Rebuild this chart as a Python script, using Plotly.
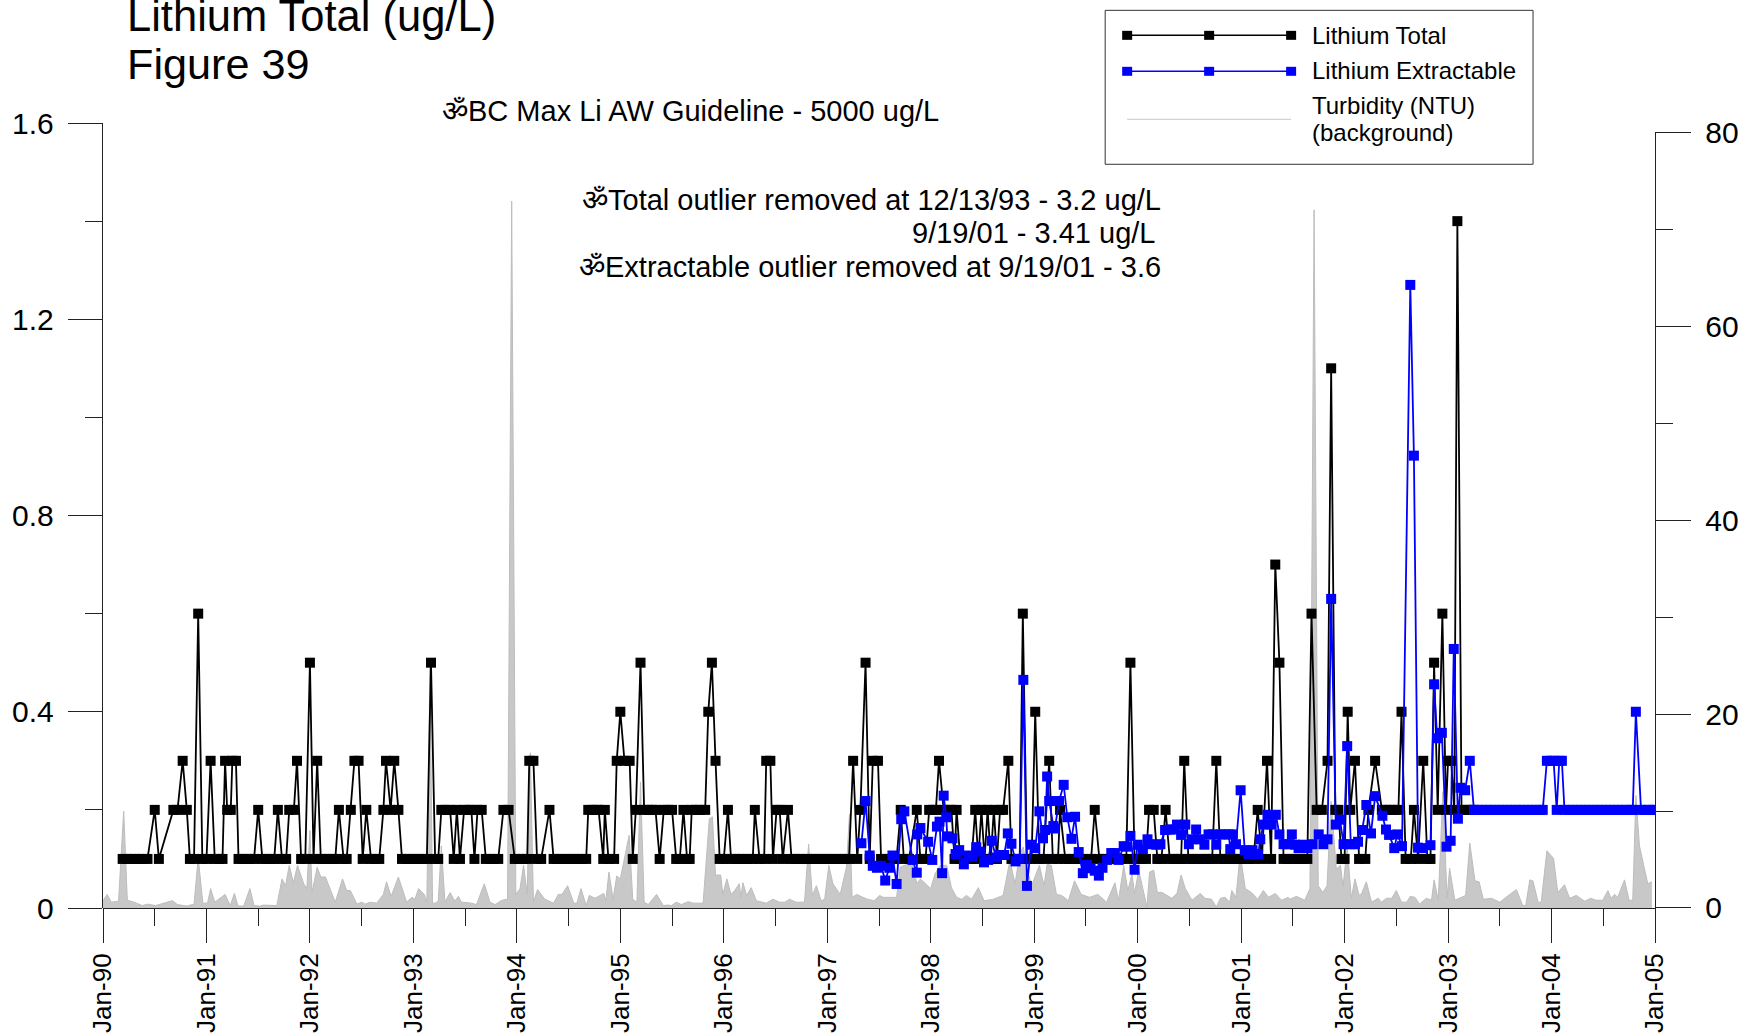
import plotly.graph_objects as go

year_labels = ["Jan-90","Jan-91","Jan-92","Jan-93","Jan-94","Jan-95","Jan-96","Jan-97","Jan-98","Jan-99","Jan-00","Jan-01","Jan-02","Jan-03","Jan-04","Jan-05"]
year_ticks = [1990,1991,1992,1993,1994,1995,1996,1997,1998,1999,2000,2001,2002,2003,2004,2005]

# (decimal year, ug/L)
lithium_total = [
(1990.19,.1),(1990.23,.1),(1990.27,.1),(1990.31,.1),(1990.35,.1),(1990.39,.1),(1990.43,.1),(1990.50,.2),(1990.54,.1),(1990.68,.2),(1990.72,.2),(1990.77,.3),(1990.81,.2),(1990.84,.1),(1990.88,.1),(1990.92,.6),(1990.96,.1),
(1991.00,.1),(1991.04,.3),(1991.08,.1),(1991.12,.1),(1991.155,.1),(1991.18,.3),(1991.20,.2),(1991.235,.2),(1991.25,.3),(1991.285,.3),(1991.31,.1),(1991.35,.1),(1991.385,.1),(1991.42,.1),(1991.46,.1),(1991.50,.2),(1991.54,.1),(1991.58,.1),(1991.62,.1),(1991.655,.1),(1991.69,.2),(1991.73,.1),(1991.77,.1),(1991.80,.2),(1991.845,.2),(1991.875,.3),(1991.915,.1),(1991.955,.1),
(1992.00,.5),(1992.035,.1),(1992.07,.3),(1992.105,.1),(1992.14,.1),(1992.18,.1),(1992.22,.1),(1992.245,.1),(1992.28,.2),(1992.325,.1),(1992.355,.1),(1992.395,.2),(1992.43,.3),(1992.47,.3),(1992.51,.1),(1992.545,.2),(1992.59,.1),(1992.63,.1),(1992.67,.1),(1992.71,.2),(1992.735,.3),(1992.78,.2),(1992.815,.3),(1992.855,.2),(1992.89,.1),(1992.93,.1),(1992.97,.1),
(1993.01,.1),(1993.05,.1),(1993.09,.1),(1993.13,.1),(1993.17,.5),(1993.21,.1),(1993.24,.1),(1993.27,.2),(1993.31,.2),(1993.355,.2),(1993.39,.1),(1993.42,.2),(1993.45,.1),(1993.49,.2),(1993.53,.2),(1993.56,.2),(1993.59,.1),(1993.62,.2),(1993.66,.2),(1993.70,.1),(1993.74,.1),(1993.78,.1),(1993.82,.1),(1993.87,.2),(1993.92,.2),(1993.98,.1),
(1994.02,.1),(1994.06,.1),(1994.10,.1),(1994.12,.3),(1994.16,.3),(1994.195,.1),(1994.235,.1),(1994.315,.2),(1994.355,.1),(1994.39,.1),(1994.43,.1),(1994.47,.1),(1994.51,.1),(1994.55,.1),(1994.59,.1),(1994.63,.1),(1994.67,.1),(1994.69,.2),(1994.73,.2),(1994.77,.2),(1994.79,.2),(1994.835,.1),(1994.85,.2),(1994.885,.1),(1994.94,.1),(1994.965,.3),
(1995.00,.4),(1995.04,.3),(1995.09,.3),(1995.12,.1),(1995.15,.2),(1995.195,.5),(1995.23,.2),(1995.27,.2),(1995.31,.2),(1995.34,.2),(1995.38,.1),(1995.42,.2),(1995.46,.2),(1995.50,.2),(1995.54,.1),(1995.575,.1),(1995.61,.2),(1995.645,.1),(1995.67,.1),(1995.69,.2),(1995.73,.2),(1995.77,.2),(1995.82,.2),(1995.85,.4),(1995.885,.5),(1995.92,.3),(1995.96,.1),
(1996.00,.1),(1996.04,.2),(1996.07,.1),(1996.11,.1),(1996.15,.1),(1996.19,.1),(1996.23,.1),(1996.28,.1),(1996.30,.2),(1996.345,.1),(1996.39,.1),(1996.41,.3),(1996.45,.3),(1996.475,.1),(1996.51,.2),(1996.54,.2),(1996.57,.1),(1996.62,.2),(1996.655,.1),(1996.69,.1),(1996.73,.1),(1996.77,.1),(1996.81,.1),(1996.85,.1),(1996.89,.1),(1996.93,.1),(1996.97,.1),
(1997.01,.1),(1997.05,.1),(1997.09,.1),(1997.13,.1),(1997.17,.1),(1997.21,.1),(1997.25,.3),(1997.29,.1),(1997.32,.2),(1997.37,.5),(1997.41,.1),(1997.44,.3),(1997.49,.3),(1997.52,.1),(1997.56,.1),(1997.60,.1),(1997.64,.1),(1997.67,.1),(1997.71,.2),(1997.74,.1),(1997.79,.1),(1997.865,.2),(1997.90,.1),(1997.95,.1),(1997.985,.2),
(1998.02,.2),(1998.05,.2),(1998.08,.3),(1998.125,.2),(1998.165,.2),(1998.20,.2),(1998.23,.1),(1998.25,.2),(1998.285,.1),(1998.32,.1),(1998.36,.1),(1998.395,.1),(1998.43,.2),(1998.46,.1),(1998.49,.2),(1998.52,.1),(1998.55,.2),(1998.58,.1),(1998.61,.2),(1998.64,.1),(1998.67,.2),(1998.70,.2),(1998.75,.3),(1998.78,.1),(1998.82,.1),(1998.86,.1),(1998.89,.6),(1998.93,.1),(1998.975,.1),
(1999.01,.4),(1999.05,.1),(1999.09,.1),(1999.145,.3),(1999.18,.1),(1999.23,.1),(1999.25,.2),(1999.30,.1),(1999.34,.1),(1999.38,.1),(1999.42,.1),(1999.46,.1),(1999.50,.1),(1999.55,.1),(1999.585,.2),(1999.63,.1),(1999.67,.1),(1999.71,.1),(1999.75,.1),(1999.79,.1),(1999.83,.1),(1999.89,.1),(1999.93,.5),(1999.97,.1),
(2000.00,.1),(2000.04,.1),(2000.08,.1),(2000.11,.2),(2000.155,.2),(2000.19,.1),(2000.23,.1),(2000.27,.2),(2000.31,.1),(2000.35,.1),(2000.39,.1),(2000.42,.1),(2000.45,.3),(2000.49,.1),(2000.53,.1),(2000.57,.1),(2000.61,.1),(2000.65,.1),(2000.69,.1),(2000.72,.1),(2000.76,.3),(2000.80,.1),(2000.84,.1),(2000.88,.1),(2000.92,.1),(2000.96,.1),
(2001.00,.1),(2001.04,.1),(2001.08,.1),(2001.12,.1),(2001.16,.2),(2001.20,.1),(2001.25,.3),(2001.29,.1),(2001.33,.7),(2001.37,.5),(2001.41,.1),(2001.45,.1),(2001.49,.1),(2001.53,.1),(2001.57,.1),(2001.60,.1),(2001.64,.1),(2001.68,.6),(2001.73,.2),(2001.78,.2),(2001.835,.3),(2001.87,1.1),(2001.91,.2),(2001.94,.2),(2001.97,.1),
(2002.00,.1),(2002.03,.4),(2002.055,.2),(2002.10,.3),(2002.14,.1),(2002.20,.1),(2002.23,.2),(2002.295,.3),(2002.36,.2),(2002.40,.2),(2002.44,.2),(2002.48,.2),(2002.52,.2),(2002.55,.4),(2002.59,.1),(2002.64,.1),(2002.67,.2),(2002.71,.1),(2002.76,.3),(2002.80,.1),(2002.83,.1),(2002.865,.5),(2002.90,.2),(2002.945,.6),(2002.98,.2),
(2003.00,.3),(2003.03,.3),(2003.06,.2),(2003.09,1.4),(2003.13,.2),(2003.17,.2),(2003.21,.2),(2003.24,.2),
]

lithium_extractable = [
(1997.33,.132),(1997.37,.218),(1997.41,.107),(1997.44,.086),(1997.48,.082),(1997.52,.086),(1997.56,.056),(1997.60,.082),(1997.63,.107),(1997.67,.049),(1997.715,.181),(1997.745,.197),(1997.825,.098),(1997.865,.072),(1997.87,.15),(1997.90,.163),(1997.975,.135),
(1998.015,.098),(1998.06,.166),(1998.085,.176),(1998.11,.071),(1998.125,.229),(1998.15,.185),(1998.16,.146),(1998.21,.142),(1998.24,.11),(1998.275,.118),(1998.32,.089),(1998.365,.107),(1998.40,.105),(1998.44,.124),(1998.475,.115),(1998.515,.093),(1998.555,.098),(1998.59,.137),(1998.63,.103),(1998.67,.108),(1998.71,.108),(1998.745,.152),(1998.78,.131),(1998.82,.095),(1998.86,.1),(1998.895,.465),(1998.93,.045),(1998.97,.129),
(1999.01,.122),(1999.05,.197),(1999.085,.142),(1999.105,.159),(1999.125,.268),(1999.145,.218),(1999.185,.167),(1999.20,.162),(1999.24,.218),(1999.285,.251),(1999.32,.185),(1999.36,.141),(1999.395,.186),(1999.43,.114),(1999.47,.071),(1999.51,.088),(1999.545,.081),(1999.585,.076),(1999.625,.066),(1999.66,.082),(1999.705,.098),(1999.745,.112),(1999.78,.112),(1999.815,.098),(1999.865,.126),(1999.895,.125),(1999.93,.147),(1999.97,.078),
(2000.00,.129),(2000.05,.12),(2000.095,.14),(2000.14,.13),(2000.18,.129),(2000.22,.13),(2000.265,.159),(2000.31,.16),(2000.345,.16),(2000.38,.17),(2000.42,.149),(2000.46,.17),(2000.495,.13),(2000.53,.14),(2000.565,.16),(2000.605,.14),(2000.645,.129),(2000.685,.15),(2000.725,.15),(2000.76,.129),(2000.80,.15),(2000.835,.15),(2000.88,.15),(2000.895,.12),(2000.92,.15),(2000.95,.13),(2000.995,.24),
(2001.035,.118),(2001.07,.11),(2001.11,.118),(2001.125,.11),(2001.165,.11),(2001.185,.14),(2001.215,.17),(2001.255,.19),(2001.295,.17),(2001.335,.19),(2001.37,.15),(2001.41,.13),(2001.45,.13),(2001.49,.15),(2001.52,.129),(2001.555,.122),(2001.60,.129),(2001.64,.122),(2001.69,.13),(2001.75,.15),(2001.795,.13),(2001.835,.14),(2001.87,.63),(2001.915,.17),(2001.955,.18),(2001.99,.13),
(2002.025,.33),(2002.06,.13),(2002.10,.13),(2002.13,.135),(2002.17,.159),(2002.21,.21),(2002.255,.152),(2002.295,.228),(2002.365,.188),(2002.40,.16),(2002.43,.149),(2002.48,.122),(2002.51,.15),(2002.555,.126),(2002.635,1.27),(2002.67,.922),(2002.71,.123),(2002.75,.122),(2002.83,.128),(2002.865,.456),(2002.895,.346),(2002.94,.357),(2002.985,.125),
(2003.025,.137),(2003.055,.528),(2003.095,.182),(2003.12,.245),(2003.165,.24),(2003.21,.3),(2003.25,.2),(2003.29,.2),(2003.33,.2),(2003.37,.2),(2003.41,.2),(2003.45,.2),(2003.49,.2),(2003.53,.2),(2003.57,.2),(2003.61,.2),(2003.65,.2),(2003.69,.2),(2003.73,.2),(2003.77,.2),(2003.81,.2),(2003.85,.2),(2003.89,.2),(2003.915,.2),(2003.955,.3),(2003.99,.3),(2004.02,.3),(2004.05,.2),(2004.075,.3),(2004.10,.3),(2004.125,.2),
(2004.165,.2),(2004.205,.2),(2004.245,.2),(2004.285,.2),(2004.325,.2),(2004.365,.2),(2004.405,.2),(2004.445,.2),(2004.485,.2),(2004.525,.2),(2004.565,.2),(2004.605,.2),(2004.645,.2),(2004.685,.2),(2004.725,.2),(2004.765,.2),(2004.785,.2),(2004.815,.4),(2004.865,.2),(2004.90,.2),(2004.94,.2),(2004.98,.2),(2005.00,.2),
]

# (decimal year, NTU)
turbidity = [
(1990.00,.75),(1990.04,1.4),(1990.08,.6),(1990.15,.7),(1990.20,10),(1990.235,.8),(1990.30,.6),(1990.38,.25),(1990.43,.4),(1990.51,.25),(1990.67,.75),(1990.72,.35),(1990.81,.2),(1990.88,.4),(1990.92,5.2),(1990.965,.5),
(1991.01,.5),(1991.04,2),(1991.08,.6),(1991.18,1.4),(1991.23,.25),(1991.27,1.5),(1991.305,.2),(1991.36,.2),(1991.42,2),(1991.46,.25),(1991.52,.2),(1991.55,.3),(1991.68,.25),(1991.73,3),(1991.765,2.3),(1991.80,4.4),(1991.84,2.6),(1991.88,4.4),(1991.94,2.5),(1991.97,2),
(1992.00,8),(1992.02,1.6),(1992.07,4.2),(1992.105,3.2),(1992.15,3.2),(1992.245,.6),(1992.315,3),(1992.355,1.8),(1992.39,1.8),(1992.455,.4),(1992.50,.6),(1992.535,.4),(1992.58,.6),(1992.645,.5),(1992.71,1.4),(1992.74,2.7),(1992.785,1.2),(1992.855,3.2),(1992.935,.6),(1992.985,1.1),
(1993.015,.9),(1993.05,2),(1993.105,1.4),(1993.13,.6),(1993.16,25),(1993.185,.5),(1993.21,.5),(1993.24,.7),(1993.27,6.4),(1993.305,.6),(1993.355,1.6),(1993.40,.7),(1993.435,1.2),(1993.465,.6),(1993.56,.5),(1993.61,.35),(1993.685,2.5),(1993.74,.6),(1993.79,.35),(1993.855,.8),(1993.91,.9),(1993.95,72.9),(1993.99,1.4),
(1994.03,2),(1994.065,4.4),(1994.10,1.4),(1994.13,16),(1994.16,.6),(1994.20,1.9),(1994.27,.9),(1994.355,.5),(1994.40,1.4),(1994.435,1.4),(1994.49,2.3),(1994.55,.5),(1994.58,.5),(1994.62,2),(1994.67,.25),(1994.70,1.3),(1994.755,1),(1994.84,1.5),(1994.86,.75),(1994.89,3.7),(1994.93,.9),(1994.965,3.3),
(1995.00,3),(1995.085,7.5),(1995.12,.9),(1995.16,.6),(1995.195,13),(1995.23,.6),(1995.27,.35),(1995.35,1.4),(1995.415,.25),(1995.46,.3),(1995.495,.25),(1995.54,.6),(1995.59,.35),(1995.655,.65),(1995.705,.5),(1995.80,.5),(1995.86,9.2),(1995.89,9.4),(1995.92,3.4),(1995.97,3.4),(1995.99,1.4),
(1996.03,3),(1996.07,1.4),(1996.105,1.8),(1996.15,2.5),(1996.165,1.1),(1996.185,2.6),(1996.22,1.3),(1996.265,2.1),(1996.315,.75),(1996.41,.5),(1996.475,.9),(1996.54,.6),(1996.59,.6),(1996.635,.9),(1996.70,.6),(1996.78,.6),(1996.82,6.6),(1996.855,1.3),(1996.895,2.3),(1996.94,.75),(1996.975,.9),
(1997.015,4.4),(1997.055,2.5),(1997.125,1.4),(1997.185,4.2),(1997.215,9.7),(1997.24,1.1),(1997.285,1.4),(1997.345,1.1),(1997.39,.9),(1997.455,.75),(1997.505,1.3),(1997.54,1.1),(1997.64,1.1),(1997.67,1.1),(1997.705,4.2),(1997.77,4.5),(1997.825,4.5),(1997.865,2.5),(1997.90,3),
(1998.00,2),(1998.04,3.5),(1998.09,4.4),(1998.155,4.4),(1998.20,2.1),(1998.25,1.1),(1998.30,.9),(1998.345,1.3),(1998.395,.9),(1998.46,2.1),(1998.515,.75),(1998.605,.9),(1998.70,1.3),(1998.765,4.9),(1998.815,2.5),(1998.86,5.6),(1998.895,6.3),(1998.925,4.2),(1998.975,2.3),
(1999.05,4.4),(1999.095,2.3),(1999.125,4.5),(1999.165,4.4),(1999.215,1.4),(1999.265,1.3),(1999.33,.75),(1999.39,2.8),(1999.455,1.4),(1999.535,1.1),(1999.615,1.4),(1999.70,.6),(1999.78,2.6),(1999.815,.75),(1999.865,4.4),(1999.905,1.8),(1999.945,3.5),(1999.97,1.5),
(2000.01,3.9),(2000.09,.1),(2000.115,3.7),(2000.155,3.9),(2000.19,1.6),(2000.235,1.6),(2000.33,1),(2000.38,1.5),(2000.42,3.4),(2000.46,2),(2000.525,.8),(2000.605,1.5),(2000.65,1),(2000.715,.9),(2000.76,.1),(2000.80,1),(2000.845,1.1),(2000.89,.6),(2000.91,1.8),(2000.95,1.1),(2000.99,5.6),
(2001.04,2),(2001.10,1.6),(2001.16,.9),(2001.215,1.8),(2001.265,1.1),(2001.33,1.5),(2001.39,.8),(2001.455,1.1),(2001.47,.9),(2001.535,1.2),(2001.615,.8),(2001.665,2),(2001.705,72),(2001.745,2.3),(2001.79,1.6),(2001.83,2.3),(2001.87,11),(2001.92,4),(2001.96,4.4),(2001.985,2.2),
(2002.025,6.3),(2002.065,1),(2002.10,3),(2002.14,1.3),(2002.165,1.5),(2002.21,2.7),(2002.26,.6),(2002.325,1),(2002.355,.6),(2002.405,1),(2002.455,1),(2002.50,1.8),(2002.55,.6),(2002.60,.6),(2002.635,1.2),(2002.68,1.1),(2002.725,.4),(2002.79,1),(2002.84,.8),(2002.865,2.9),(2002.905,.8),(2002.95,12),(2002.99,1),
(2003.015,4.1),(2003.065,.8),(2003.13,1.1),(2003.17,1.3),(2003.21,6.7),(2003.26,2.8),(2003.30,2.7),(2003.34,.9),(2003.42,1),(2003.50,.6),(2003.56,1.1),(2003.66,1.9),(2003.72,.3),(2003.75,.2),(2003.79,2.9),(2003.82,2.8),(2003.87,.6),(2003.90,.6),(2003.955,5.9),
(2004.02,5.1),(2004.06,1.6),(2004.125,2.4),(2004.175,1),(2004.24,1.3),(2004.32,.7),(2004.38,1),(2004.43,.8),(2004.495,.8),(2004.545,1.8),(2004.575,1),(2004.61,1.4),(2004.64,1.1),(2004.705,2.9),(2004.75,.8),(2004.785,.8),(2004.815,11.6),(2004.85,6.4),(2004.93,2.5),(2004.97,2.7),
]

FONT = "Liberation Sans"
PLOT_L, PLOT_R, PLOT_T, PLOT_B = 102.5, 1655.0, 122.7, 908.0
W, H = 1743, 1034
def xp(px): return (px - PLOT_L) / (PLOT_R - PLOT_L)
def yp(py): return (PLOT_B - py) / (PLOT_B - PLOT_T)

fig = go.Figure()
fig.add_trace(go.Scatter(x=[p[0] for p in turbidity], y=[p[1] for p in turbidity], name="Turbidity (NTU)",
    mode="lines", fill="tozeroy", fillcolor="#c8c8c8", line=dict(color="#bdbdbd", width=1),
    xaxis="x", yaxis="y", showlegend=False))
fig.add_trace(go.Scatter(x=[p[0] for p in lithium_total], y=[p[1] for p in lithium_total], name="Lithium Total",
    mode="lines+markers", line=dict(color="#000000", width=1.8), marker=dict(symbol="square", size=10, color="#000000"),
    xaxis="x", yaxis="y2", showlegend=False))
fig.add_trace(go.Scatter(x=[p[0] for p in lithium_extractable], y=[p[1] for p in lithium_extractable], name="Lithium Extractable",
    mode="lines+markers", line=dict(color="#0000ff", width=1.8), marker=dict(symbol="square", size=10, color="#0000ff"),
    xaxis="x", yaxis="y2", showlegend=False))

shapes = [dict(type="rect", xref="paper", yref="paper", x0=xp(1105), x1=xp(1533), y0=yp(164), y1=yp(10),
               line=dict(color="#333333", width=1), fillcolor="white", layer="above")]
for py, col in [(35, "#000000"), (71, "#0000ff")]:
    shapes.append(dict(type="line", xref="paper", yref="paper", x0=xp(1127), x1=xp(1291), y0=yp(py), y1=yp(py), line=dict(color=col, width=1.5), layer="above"))
    for cx in (1127, 1209, 1291):
        shapes.append(dict(type="rect", xref="paper", yref="paper", x0=xp(cx-5), x1=xp(cx+5), y0=yp(py-4.5), y1=yp(py+4.5), fillcolor=col, line=dict(width=0), layer="above"))
shapes.append(dict(type="line", xref="paper", yref="paper", x0=xp(1127), x1=xp(1291), y0=yp(119), y1=yp(119), line=dict(color="#c8c8c8", width=1), layer="above"))

def label(text, px, py, size, anchor="left"):
    return dict(text=text, xref="paper", yref="paper", x=xp(px), y=yp(py), xanchor=anchor, yanchor="middle",
                showarrow=False, align=anchor, font=dict(family=FONT, size=size, color="#000000"))

OM = "\u0950"
annotations = [
    label("Lithium Total (ug/L)", 125, 16, 43.5),
    label("Figure 39", 125, 64, 43.2),
    label(OM + "BC Max Li AW Guideline - 5000 ug/L", 440, 111, 29),
    label(OM + "Total outlier removed at 12/13/93 - 3.2 ug/L", 1163, 200, 29, "right"),
    label("9/19/01 - 3.41 ug/L", 1157, 233, 29, "right"),
    label(OM + "Extractable outlier removed at 9/19/01 - 3.6", 1163, 267, 29, "right"),
    label("Lithium Total", 1310, 35, 24),
    label("Lithium Extractable", 1310, 70, 24),
    label("Turbidity (NTU)", 1310, 105, 24),
    label("(background)", 1310, 132, 24),
]

AXIS = dict(showgrid=False, zeroline=False, showline=True, linecolor="#222222", linewidth=1, color="#000000", automargin=False)
fig.update_layout(
    width=W, height=H, autosize=False, paper_bgcolor="white", plot_bgcolor="rgba(0,0,0,0)",
    margin=dict(l=PLOT_L, r=W-PLOT_R, t=PLOT_T, b=H-PLOT_B, pad=0), showlegend=False,
    font=dict(family=FONT, size=28, color="#000000"),
    shapes=shapes, annotations=annotations,
    xaxis=dict(AXIS, range=[1990, 2005], anchor="y", tickmode="array", tickvals=year_ticks, ticktext=year_labels,
               tickangle=-90, ticks="outside", ticklen=34, tickwidth=1, tickcolor="#222222",
               ticksuffix="\u00a0\u00a0", tickfont=dict(family=FONT, size=26),
               minor=dict(tickmode="array", tickvals=[y + .5 for y in year_ticks[:-1]], ticks="outside", ticklen=17, tickwidth=1, tickcolor="#222222")),
    yaxis=dict(AXIS, domain=[0, (PLOT_B-132)/(PLOT_B-PLOT_T)], range=[0, 80], side="right", anchor="x", dtick=20,
               ticks="outside", ticklen=35, tickwidth=1, tickcolor="#222222", tickprefix="\u00a0",
               tickfont=dict(family=FONT, size=30),
               minor=dict(dtick=10, ticks="outside", ticklen=17, tickwidth=1, tickcolor="#222222")),
    yaxis2=dict(AXIS, domain=[0, 1], range=[0, 1.6], side="left", anchor="x", dtick=0.4, tickformat=".1~f",
                ticks="outside", ticklen=34, tickwidth=1, tickcolor="#222222", ticksuffix="\u00a0",
                tickfont=dict(family=FONT, size=30),
                minor=dict(dtick=0.2, ticks="outside", ticklen=17, tickwidth=1, tickcolor="#222222")),
)
fig.write_html("out.html", config=dict(displayModeBar=False), post_script="document.body.style.margin='0';document.documentElement.style.overflow='hidden';")
